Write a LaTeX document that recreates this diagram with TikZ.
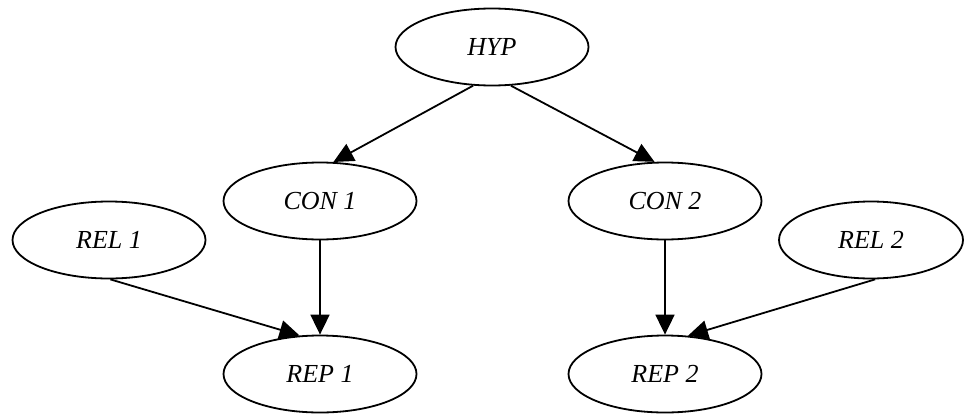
\documentclass[tikz,border=0pt]{standalone}
\usepackage{fontspec}
\setmainfont{Liberation Serif}
\usetikzlibrary{shapes.geometric,arrows.meta}
\begin{document}
\begin{tikzpicture}[x=1pt,y=-1pt,
  ell/.style={ellipse,draw,line width=1.8pt,minimum width=193pt,minimum height=77pt,inner sep=0pt,font=\fontsize{26}{30}\selectfont\itshape},
  edge/.style={line width=1.8pt,-{Triangle[length=20pt,width=19pt]}}]
\useasboundingbox (0,0) rectangle (965,415);
\node[ell] (hyp) at (492,47) {HYP};
\node[ell] (con1) at (320,201) {CON 1};
\node[ell] (con2) at (665,201) {CON 2};
\node[ell] (rel1) at (109,240) {REL 1};
\node[ell,minimum width=184pt] (rel2) at (871,240) {REL 2};
\node[ell] (rep1) at (320,374) {REP 1};
\node[ell] (rep2) at (665,374) {REP 2};
\draw[edge] (hyp.244) -- (con1.71);
\draw[edge] (hyp.296) -- (con2.105);
\draw[edge] (con1) -- (rep1);
\draw[edge] (con2) -- (rep2);
\draw[edge] (rel1.272) -- (rep1.118);
\draw[edge] (rel2.276) -- (rep2.59);
\end{tikzpicture}
\end{document}
